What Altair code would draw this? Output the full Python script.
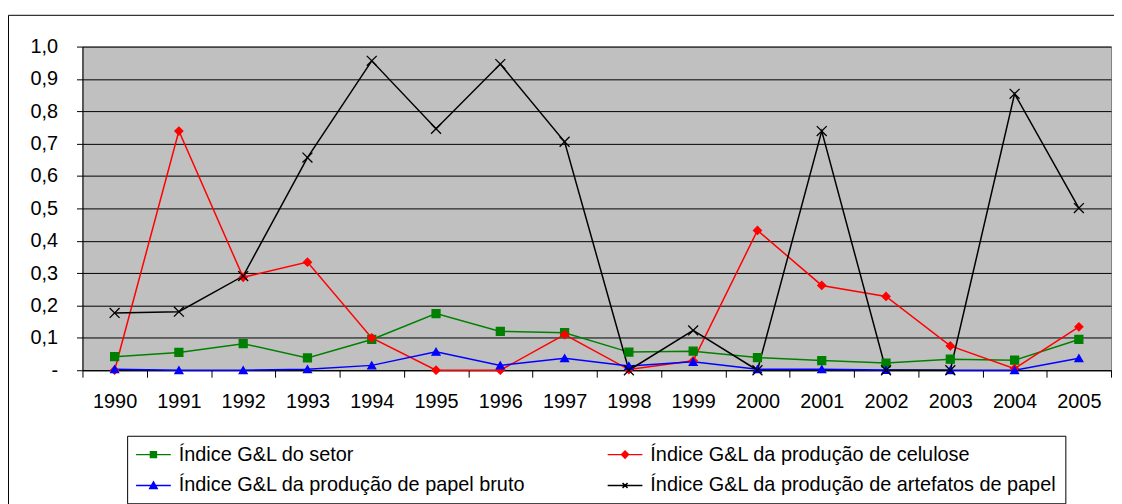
import altair as alt
import pandas as pd

years = list(range(1990, 2006))
series_names = [
    "Índice G&L do setor",
    "Índice G&L da produção de celulose",
    "Índice G&L da produção de papel bruto",
    "Índice G&L da produção de artefatos de papel",
]
setor = [0.042, 0.055, 0.082, 0.038, 0.095, 0.175, 0.120, 0.116, 0.056, 0.059, 0.039, 0.030, 0.022, 0.034, 0.031, 0.095]
celulose = [0.000, 0.739, 0.287, 0.334, 0.100, 0.000, 0.000, 0.110, 0.002, 0.029, 0.432, 0.262, 0.228, 0.075, 0.005, 0.134]
papel = [0.003, 0.000, 0.000, 0.003, 0.015, 0.057, 0.015, 0.037, 0.013, 0.026, 0.003, 0.003, 0.001, 0.000, 0.000, 0.037]
artefatos = [0.177, 0.181, 0.291, 0.657, 0.956, 0.746, 0.946, 0.706, 0.000, 0.123, 0.000, 0.739, 0.000, 0.000, 0.854, 0.501]
colors = ["#008000", "#FF0000", "#0000FF", "#000000"]
y_ticks = [0, 0.1, 0.2, 0.3, 0.4, 0.5, 0.6, 0.7, 0.8, 0.9, 1.0]

rows = []
for name, vals in zip(series_names, [setor, celulose, papel, artefatos]):
    for yr, v in zip(years, vals):
        rows.append({"ano": str(yr), "serie": name, "valor": v})
df = pd.DataFrame(rows)

FONT = "Liberation Sans"

plot_shapes = [
    "square",
    "diamond",
    "triangle-up",
    "M-1.25,-1.25L1.25,1.25M-1.25,1.25L1.25,-1.25",
]
legend_shapes = [
    "M-1,0H2.5M0.45,-0.3H1.05V0.3H0.45Z",
    "M-1,0H2.5M0.75,-0.35L1.1,0L0.75,0.35L0.4,0Z",
    "M-1,0H2.5M0.75,-0.35L1.12,0.3H0.38Z",
    "M-1,0H2.5M0.5,-0.25L1,0.25M0.5,0.25L1,-0.25",
]

color_scale = alt.Scale(domain=series_names, range=colors)

x_enc = alt.X(
    "ano:O",
    sort=[str(y) for y in years],
    scale=alt.Scale(type="band", paddingInner=0, paddingOuter=0),
    axis=alt.Axis(
        title=None, labelAngle=0, tickBand="extent", tickSize=7, labelPadding=15,
        grid=False, domainColor="#000000", tickColor="#000000",
        labelFont=FONT, labelFontSize=20, labelColor="#000000",
    ),
)
y_enc = alt.Y(
    "valor:Q",
    scale=alt.Scale(domain=[0, 1], nice=False, zero=True),
    axis=alt.Axis(
        title=None, values=y_ticks, tickSize=6, labelPadding=19,
        labelExpr="datum.value == 0 ? '-' : replace(format(datum.value, '.1f'), '.', ',')",
        grid=True, gridColor="#000000", gridWidth=1, gridOpacity=1,
        domainColor="#000000", tickColor="#000000",
        labelFont=FONT, labelFontSize=20, labelColor="#000000",
    ),
)

base = alt.Chart(df)

frame = alt.Chart(alt.Data(values=[{}])).mark_rect(
    fillOpacity=0, stroke="#000000", strokeWidth=1
).encode(
    x=alt.value(-74.5), x2=alt.value(1060), y=alt.value(-31.5), y2=alt.value(520)
)

lines = base.mark_line(strokeWidth=1.5).encode(
    x=x_enc, y=y_enc,
    color=alt.Color("serie:N", scale=color_scale, legend=None),
)

points = base.mark_point(filled=True, size=64, strokeWidth=1.3, opacity=1).encode(
    x=x_enc, y=y_enc,
    shape=alt.Shape("serie:N", scale=alt.Scale(domain=series_names, range=plot_shapes), legend=None),
    fill=alt.Fill("serie:N", scale=color_scale, legend=None),
    stroke=alt.Stroke("serie:N", scale=color_scale, legend=None),
)

leg = alt.Legend(
    title=None, orient="none", legendX=45, legendY=392, columns=2, direction="horizontal",
    strokeColor="#000000", padding=8, symbolSize=400, symbolStrokeWidth=1.5,
    labelFont=FONT, labelFontSize=20, labelColor="#000000", labelOffset=22,
    columnPadding=79, rowPadding=10, labelLimit=600, fillColor="#FFFFFF",
)

legend_layer = base.transform_filter("false").mark_point(filled=True, opacity=1).encode(
    x=x_enc, y=y_enc,
    shape=alt.Shape("serie:N", scale=alt.Scale(domain=series_names, range=legend_shapes), legend=leg),
    fill=alt.Fill("serie:N", scale=alt.Scale(domain=series_names, range=colors), legend=leg),
    stroke=alt.Stroke("serie:N", scale=alt.Scale(domain=series_names, range=colors), legend=leg),
)

chart = alt.layer(frame, lines, points, legend_layer).resolve_scale(
    shape="independent", fill="independent", stroke="independent"
).properties(
    width=1036, height=326,
    autosize=alt.AutoSizeParams(type="none"),
    padding={"left": 75, "top": 37, "right": 3, "bottom": 150},
    background="#FFFFFF",
).configure_view(fill="#C0C0C0", stroke="#808080", strokeWidth=1)

chart.save("out.html", embed_options={"renderer": "svg", "actions": False})
